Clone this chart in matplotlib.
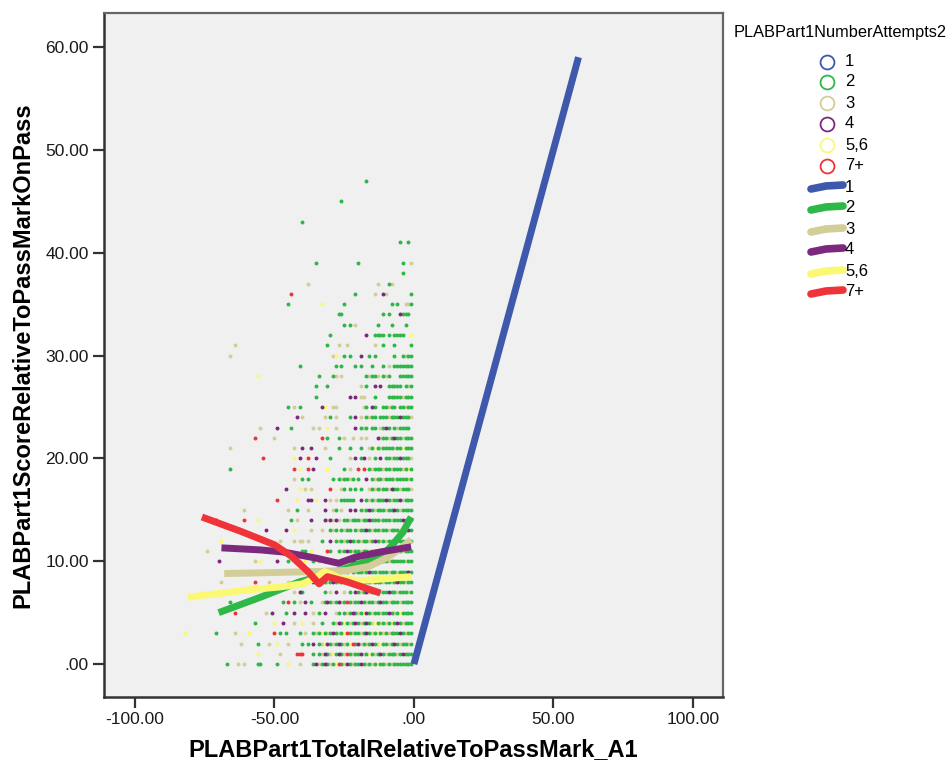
import matplotlib
matplotlib.use("Agg")
import matplotlib.pyplot as plt
from matplotlib.ticker import FuncFormatter

plt.rcParams["font.family"] = ["Liberation Sans", "DejaVu Sans"]

# groups (number of attempts) and SPSS default colours
groups = ["1", "2", "3", "4", "5,6", "7+"]
group_colors = ["#3e58ac", "#2eb848", "#d3ce97", "#7c287d", "#fbf873", "#ef3338"]
dot_codes = {"g": "2", "k": "3", "p": "4", "y": "5,6", "r": "7+"}

x_ticks = [-100, -50, 0, 50, 100]
y_ticks = [0, 10, 20, 30, 40, 50, 60]

# scatter dots, one string per score row (y).
# each string is right-aligned: its last character is x = -1, the one before x = -2 ...
# g=2, k=3, p=4, y=5,6, r=7+, "." = no dot. spaces only split 10-wide blocks.
dot_rows = {
    47: ".......... .......... ...g...... ..........",
    45: ".......... ....g..... .......... ..........",
    43: "g......... .......... .......... ..........",
    41: ".......... .......... .......... .....g..g.",
    39: ".....g.... .......... g......... ......g..k",
    38: ".......... .......... .......... ......g...",
    37: "..k....... .......... .......k.. .gk.......",
    36: "......r... .......... .........g ......k..p k........g",
    35: ".....g.... .......y.. .....g.... .......... ..g.g..kkg",
    34: "...gg..... .........g .g...pggg.",
    33: ".....g.g.k .......g.. ..g....g..",
    32: "g......... ...p..gggg .g.gggg..y",
    31: "......k... .......... .......... .........g ...k..k... ......k..g ...g.....g",
    30: "....k..... .......... .......... .......... .ky..g.g.. .p..g.g... ...g..gkgg",
    29: ".........g .......... ..g.g....g .g...g...g .k.ggggggg",
    28: "....y..... .......... ......g... .gk.k..... ...gkggk.g kg...ggggg",
    27: ".....g...g .......... .k.g..p.p. .ggggg.gkg",
    26: ".....g.... .......p.p .kk...g... .gggggkggg",
    25: ".....g.k.g .......py. .kk....... ..kg.pg..g gkgg.ggkgg",
    24: "........p. k.......k. g.k....g.p .k.gkgg.gg gkgggpgggk",
    23: ".....k.... .p....g... ....k.k..y ..k......p .gkg.gg.kg pg.gkgggg.",
    22: "...r...... k......... .......r.g ...g.k..k. .k.k...pkg gkgpggkggg",
    21: "....k..... .......... .......k.. p..p....k. ...g...g.. .g..kgygkg gggkggyggg",
    20: "......r... .......y.p ..r..p.... g......k.p .gp.k.g.p. ggkggpgggk",
    19: "....g..... .......... .......r.y ..r.p....y .....g.k.. r.r.gkgggk ggkgggkgyg",
    18: ".......k.. g.g....... .g.gkggkg. g..p.gkggk gggkggggkg",
    17: "....p....y .k.k...... r...kg.g.g .g..kgkgkg gkpggkgggk",
    16: ".r......y. ..pp.y..p. k.k.ggggg. .p.gkgkggg pgkggpkggg",
    15: ".........k .......... .....k..g. ..k.....p. .kg.k..p.p .gkgpgkggg kggpgkgggg",
    14: ".........r .........r ....y..... ......g.k. ...p....pk pkpk.ggkgg gkggpgggkg ggkgggpggg",
    13: ".......p.. ....p..y.. ...k...k.. gkg.gkgg.g kggpgkggkg gkgggkggpg",
    12: ".y........ .......... ..k....k.k k.k....g.. p.gkgkgpgk gkggkgpgkg kgggkggkgg",
    11: "......k... .......... .......... .......... gg.y.....r g..gkgpgkg gkggkgggpg ggkgggkggg",
    10: "p......... ...k.y.... .p...g...k .y..g.k.p. gkg.ggkgpg kgggygkggg gkgggggkgg",
    9: "...k....g. ..p..k..g. k.gpgkg.gk ggkgpggkgg gkggkgggpg",
    8: ".k........ ...r....k. .....k..g. g.k.p.y.gk gpgkg.gkgg kgpggkgggk ggkgpggkgg",
    7: ".......k.p g.......g. k.p..k.g.p gkgpkgggkg gpggkgggkg",
    6: "....g..... .......... ...g.r.g.k .p.g...kgp gkgpkgrgkg gpgkggkgpg gkgggkgggg",
    5: "......r... .......k.p ....g..p.. .p..k.g.p. ..kg.gkgpg kgypgkggkg gpgkgygggg",
    4: "...g...... y..p...k.. y...k..g.. .gkpgygkgp gkgpgkygkg kgygpgkggg",
    3: "........y. .........g ......k... .y........ r.g.g....g .k..gkgygk gpgkgyrgkg gkgpgkgygk gkgggpgkgg",
    2: "........k. ....g...k. .y...k.... g.g.p.gkyp gkgpgkgyrg pkgkgpgkyg gkgpgkggkg",
    1: "....y..... ..k.....rr r...g.gkpg kygpgkrgkg gpkgygkgpg kgggkgpggg",
    0: "...g...k.k ....gg.... .g...y...k ....gpkgpg kgyrgkpgkg gpgkgkgygg kgkggggggg",
}

# fit lines per group
fit_x_1 = [0, 59]
fit_y_1 = [0, 59]
fit_x_2 = [-70, -55, -41, -30, -20, -12, -8, -4, -1]
fit_y_2 = [5.0, 6.5, 8.0, 8.8, 9.7, 10.4, 11.5, 12.8, 14.3]
fit_x_3 = [-68, -50, -35, -24, -16, -10, -5, -1]
fit_y_3 = [8.8, 8.9, 9.0, 9.1, 9.5, 10.3, 11.2, 12.1]
fit_x_4 = [-69, -55, -47, -35, -27, -21, -12, -1]
fit_y_4 = [11.3, 11.1, 10.9, 10.3, 9.8, 10.4, 10.9, 11.4]
fit_x_56 = [-81, -60, -48, -40, -35, -32, -27, -20, -10, -1]
fit_y_56 = [6.5, 7.2, 7.5, 7.8, 8.4, 9.0, 8.4, 8.1, 8.3, 8.5]
fit_x_7 = [-76, -62, -50, -44, -38, -34, -31, -24, -12]
fit_y_7 = [14.3, 12.9, 11.6, 10.5, 9.0, 7.8, 8.5, 8.0, 6.9]

fit_lines = {
    "1": (fit_x_1, fit_y_1),
    "2": (fit_x_2, fit_y_2),
    "3": (fit_x_3, fit_y_3),
    "4": (fit_x_4, fit_y_4),
    "5,6": (fit_x_56, fit_y_56),
    "7+": (fit_x_7, fit_y_7),
}


def spss_fmt(value, _pos=None):
    """Format like SPSS: 0 -> .00, 10 -> 10.00."""
    text = f"{value:.2f}"
    if text in ("0.00", "-0.00"):
        return ".00"
    return text


color_of = dict(zip(groups, group_colors))

points = {g: ([], []) for g in groups}
for y_val, row in dot_rows.items():
    cells = row.replace(" ", "")
    n = len(cells)
    for i, code in enumerate(cells):
        if code in dot_codes:
            points[dot_codes[code]][0].append(i - n)
            points[dot_codes[code]][1].append(y_val)

fig = plt.figure(figsize=(9.51, 7.66), dpi=100)
ax = fig.add_axes([104 / 951, 1 - 697 / 766, 619 / 951, 684 / 766])
ax.set_facecolor("#f0f0f0")

for g in ["3", "5,6", "2", "4", "7+"]:
    xs, ys = points[g]
    ax.scatter(xs, ys, s=8, color=color_of[g], linewidths=0, zorder=2)

for g in ["1", "2", "3", "4", "5,6", "7+"]:
    xs, ys = fit_lines[g]
    ax.plot(xs, ys, color=color_of[g], linewidth=5, solid_capstyle="butt",
            solid_joinstyle="round", zorder=3)

ax.set_xlim(-111.1, 110.8)
ax.set_ylim(-3.2, 63.3)
ax.set_xticks(x_ticks)
ax.set_yticks(y_ticks)
ax.xaxis.set_major_formatter(FuncFormatter(spss_fmt))
ax.yaxis.set_major_formatter(FuncFormatter(spss_fmt))
ax.tick_params(direction="out", length=8, width=1.6, color="#333333",
               labelsize=12.5, pad=3, labelcolor="#1a1a1a")
for side in ["left", "bottom"]:
    ax.spines[side].set_color("#333333")
    ax.spines[side].set_linewidth(1.8)
for side in ["top", "right"]:
    ax.spines[side].set_color("#666666")
    ax.spines[side].set_linewidth(1.6)

ax.set_xlabel("PLABPart1TotalRelativeToPassMark_A1", fontsize=17,
              fontweight="bold", labelpad=8)
ax.set_ylabel("PLABPart1ScoreRelativeToPassMarkOnPass", fontsize=17,
              fontweight="bold", labelpad=8)

# legend drawn in pixel coordinates on an overlay
lg = fig.add_axes([0, 0, 1, 1], facecolor="none")
lg.set_xlim(0, 951)
lg.set_ylim(766, 0)
lg.axis("off")
lg.text(734, 32, "PLABPart1NumberAttempts2", fontsize=11.8, va="center", ha="left")
circle_rows = [62, 82, 103, 124, 145, 166]
line_rows = [187, 208, 230, 250, 272, 292]
for g, cy, ly in zip(groups, circle_rows, line_rows):
    lg.plot([827], [cy], marker="o", markersize=10, markerfacecolor="none",
            markeredgecolor=color_of[g], markeredgewidth=1.3)
    lg.text(845, cy, g, fontsize=12, va="center", ha="left")
    lg.plot([811, 826, 843], [ly + 2, ly - 1, ly - 2], color=color_of[g],
            linewidth=5.5, solid_capstyle="round")
    lg.text(845, ly, g, fontsize=12, va="center", ha="left")

fig.savefig("out.png", dpi=100)
